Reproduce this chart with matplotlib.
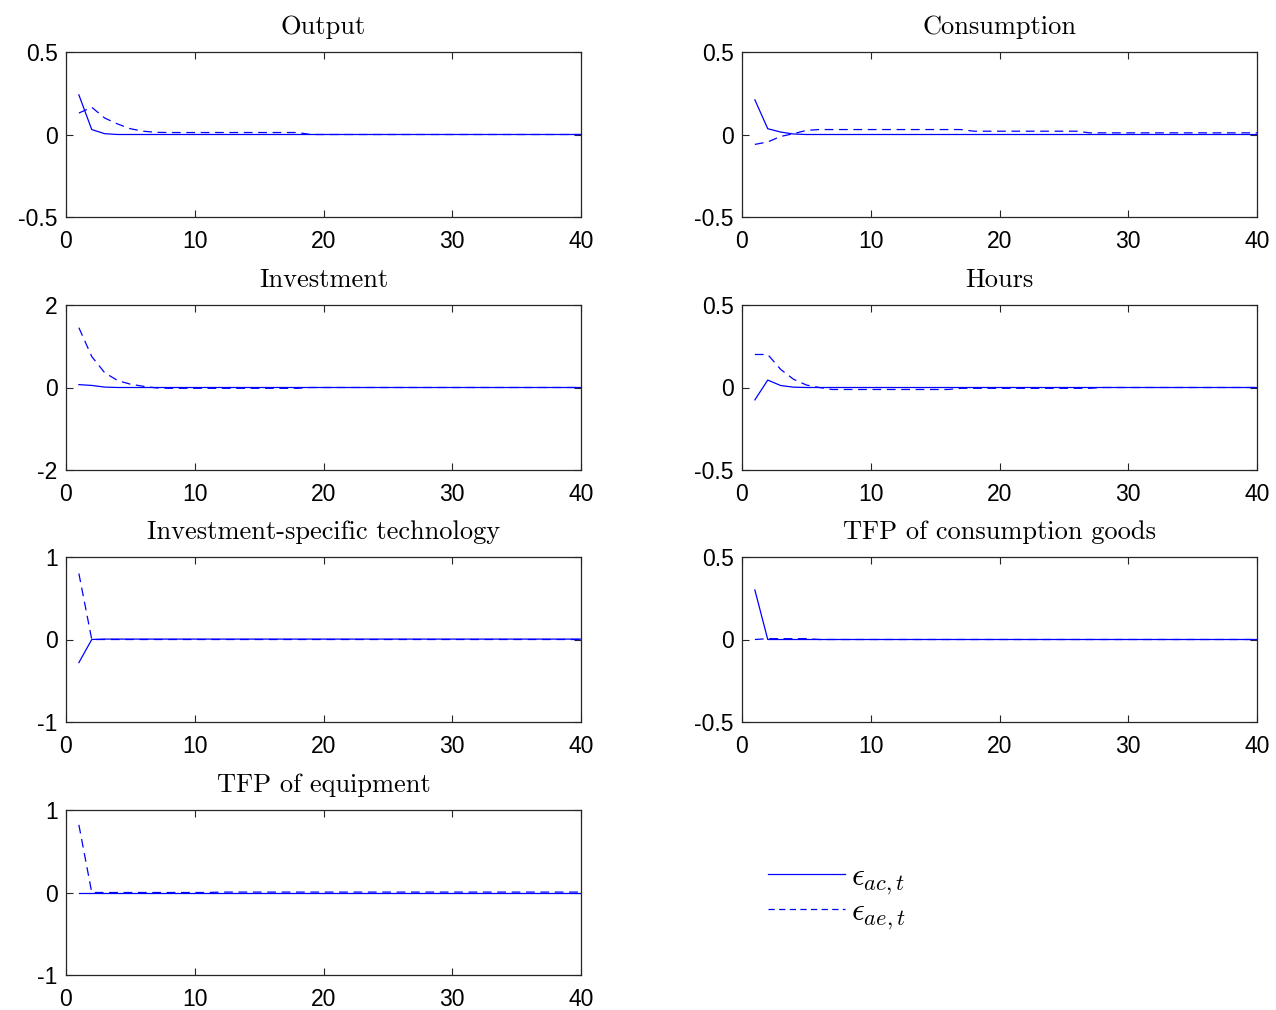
import matplotlib
matplotlib.use("Agg")
import matplotlib.pyplot as plt
from matplotlib.lines import Line2D

t = list(range(1, 41))

titles = ["Output", "Consumption", "Investment", "Hours",
          "Investment-specific technology", "TFP of consumption goods",
          "TFP of equipment"]
ylims = [(-0.5, 0.5), (-0.5, 0.5), (-2, 2), (-0.5, 0.5), (-1, 1), (-0.5, 0.5), (-1, 1)]
yticks = [[-0.5, 0, 0.5], [-0.5, 0, 0.5], [-2, 0, 2], [-0.5, 0, 0.5],
          [-1, 0, 1], [-0.5, 0, 0.5], [-1, 0, 1]]
xticks = [0, 10, 20, 30, 40]

# responses to eps_ac (solid) and eps_ae (dashed)
out_ac = [0.24, 0.03, 0.005, 0.0, 0.0, 0.0, 0.0, 0.0, 0.0, 0.0,
          0.0, 0.0, 0.0, 0.0, 0.0, 0.0, 0.0, 0.0, 0.0, 0.0,
          0.0, 0.0, 0.0, 0.0, 0.0, 0.0, 0.0, 0.0, 0.0, 0.0,
          0.0, 0.0, 0.0, 0.0, 0.0, 0.0, 0.0, 0.0, 0.0, 0.0]
out_ae = [0.13, 0.165, 0.10, 0.064, 0.035, 0.02, 0.013, 0.012, 0.012, 0.012,
          0.012, 0.012, 0.012, 0.012, 0.012, 0.012, 0.012, 0.012, 0.0, 0.0,
          0.0, 0.0, 0.0, 0.0, 0.0, 0.0, 0.0, 0.0, 0.0, 0.0,
          0.0, 0.0, 0.0, 0.0, 0.0, 0.0, 0.0, 0.0, 0.0, 0.0]
cons_ac = [0.21, 0.035, 0.015, 0.003, 0.0, 0.0, 0.0, 0.0, 0.0, 0.0,
           0.0, 0.0, 0.0, 0.0, 0.0, 0.0, 0.0, 0.0, 0.0, 0.0,
           0.0, 0.0, 0.0, 0.0, 0.0, 0.0, 0.0, 0.0, 0.0, 0.0,
           0.0, 0.0, 0.0, 0.0, 0.0, 0.0, 0.0, 0.0, 0.0, 0.0]
cons_ae = [-0.06, -0.045, -0.012, 0.005, 0.025, 0.03, 0.03, 0.03, 0.03, 0.03,
           0.03, 0.03, 0.03, 0.03, 0.03, 0.03, 0.03, 0.02, 0.02, 0.02,
           0.02, 0.02, 0.02, 0.02, 0.02, 0.02, 0.01, 0.01, 0.01, 0.01,
           0.01, 0.01, 0.01, 0.01, 0.01, 0.01, 0.01, 0.01, 0.01, 0.01]
inv_ac = [0.07, 0.05, 0.01, 0.0, 0.0, 0.0, 0.0, 0.0, 0.0, 0.0,
          0.0, 0.0, 0.0, 0.0, 0.0, 0.0, 0.0, 0.0, 0.0, 0.0,
          0.0, 0.0, 0.0, 0.0, 0.0, 0.0, 0.0, 0.0, 0.0, 0.0,
          0.0, 0.0, 0.0, 0.0, 0.0, 0.0, 0.0, 0.0, 0.0, 0.0]
inv_ae = [1.45, 0.75, 0.36, 0.17, 0.08, 0.03, -0.01, -0.02, -0.02, -0.02,
          -0.02, -0.02, -0.02, -0.02, -0.02, -0.02, -0.02, -0.02, 0.0, 0.0,
          0.0, 0.0, 0.0, 0.0, 0.0, 0.0, 0.0, 0.0, 0.0, 0.0,
          0.0, 0.0, 0.0, 0.0, 0.0, 0.0, 0.0, 0.0, 0.0, 0.0]
hrs_ac = [-0.075, 0.045, 0.012, 0.002, 0.0, 0.0, 0.0, 0.0, 0.0, 0.0,
          0.0, 0.0, 0.0, 0.0, 0.0, 0.0, 0.0, 0.0, 0.0, 0.0,
          0.0, 0.0, 0.0, 0.0, 0.0, 0.0, 0.0, 0.0, 0.0, 0.0,
          0.0, 0.0, 0.0, 0.0, 0.0, 0.0, 0.0, 0.0, 0.0, 0.0]
hrs_ae = [0.20, 0.20, 0.11, 0.05, 0.015, 0.0, -0.012, -0.012, -0.012, -0.012,
          -0.012, -0.012, -0.012, -0.012, -0.012, -0.012, -0.005, -0.005, -0.005, -0.005,
          -0.005, -0.005, -0.005, -0.005, -0.005, -0.005, -0.005, 0.0, 0.0, 0.0,
          0.0, 0.0, 0.0, 0.0, 0.0, 0.0, 0.0, 0.0, 0.0, 0.0]
ist_ac = [-0.28, 0.0, 0.005, 0.005, 0.005, 0.005, 0.005, 0.005, 0.005, 0.005,
          0.005, 0.005, 0.005, 0.005, 0.005, 0.005, 0.005, 0.005, 0.005, 0.005,
          0.005, 0.005, 0.005, 0.005, 0.005, 0.005, 0.005, 0.005, 0.005, 0.005,
          0.005, 0.005, 0.005, 0.005, 0.005, 0.005, 0.005, 0.005, 0.005, 0.005]
ist_ae = [0.80, 0.0, 0.0, 0.0, 0.0, 0.0, 0.0, 0.0, 0.0, 0.0,
          0.0, 0.0, 0.0, 0.0, 0.0, 0.0, 0.0, 0.0, 0.0, 0.0,
          0.0, 0.0, 0.0, 0.0, 0.0, 0.0, 0.0, 0.0, 0.0, 0.0,
          0.0, 0.0, 0.0, 0.0, 0.0, 0.0, 0.0, 0.0, 0.0, 0.0]
tfpc_ac = [0.30, 0.0, 0.0, 0.0, 0.0, 0.0, 0.0, 0.0, 0.0, 0.0,
           0.0, 0.0, 0.0, 0.0, 0.0, 0.0, 0.0, 0.0, 0.0, 0.0,
           0.0, 0.0, 0.0, 0.0, 0.0, 0.0, 0.0, 0.0, 0.0, 0.0,
           0.0, 0.0, 0.0, 0.0, 0.0, 0.0, 0.0, 0.0, 0.0, 0.0]
tfpc_ae = [0.0, 0.005, 0.005, 0.005, 0.005, 0.0, 0.0, 0.0, 0.0, 0.0,
           0.0, 0.0, 0.0, 0.0, 0.0, 0.0, 0.0, 0.0, 0.0, 0.0,
           0.0, 0.0, 0.0, 0.0, 0.0, 0.0, 0.0, 0.0, 0.0, 0.0,
           0.0, 0.0, 0.0, 0.0, 0.0, 0.0, 0.0, 0.0, 0.0, 0.0]
tfpe_ac = [0.0, 0.0, 0.0, 0.0, 0.0, 0.0, 0.0, 0.0, 0.0, 0.0,
           0.0, 0.0, 0.0, 0.0, 0.0, 0.0, 0.0, 0.0, 0.0, 0.0,
           0.0, 0.0, 0.0, 0.0, 0.0, 0.0, 0.0, 0.0, 0.0, 0.0,
           0.0, 0.0, 0.0, 0.0, 0.0, 0.0, 0.0, 0.0, 0.0, 0.0]
tfpe_ae = [0.82, 0.0, 0.0, 0.0, 0.0, 0.0, 0.0, 0.0, 0.0, 0.0,
           0.0, 0.005, 0.005, 0.005, 0.005, 0.005, 0.005, 0.005, 0.005, 0.005,
           0.005, 0.005, 0.005, 0.005, 0.005, 0.005, 0.005, 0.005, 0.005, 0.005,
           0.005, 0.005, 0.005, 0.005, 0.005, 0.005, 0.005, 0.005, 0.005, 0.005]

series_ac = [out_ac, cons_ac, inv_ac, hrs_ac, ist_ac, tfpc_ac, tfpe_ac]
series_ae = [out_ae, cons_ae, inv_ae, hrs_ae, ist_ae, tfpc_ae, tfpe_ae]

BLUE = "#0000ff"
plt.rcParams.update({"font.family": "Liberation Sans", "font.size": 16.5,
                     "axes.unicode_minus": False, "mathtext.fontset": "cm"})

W, H = 1276, 1010
fig = plt.figure(figsize=(W / 100, H / 100), dpi=100)
lefts = [66, 742]
tops = [52, 305, 557, 810]
aw, ah = 515, 165

for i in range(7):
    r, c = divmod(i, 2)
    ax = fig.add_axes([lefts[c] / W, (H - tops[r] - ah) / H, aw / W, ah / H])
    ax.plot(t, series_ac[i], color=BLUE, lw=0.9)
    ax.plot(t, series_ae[i], color=BLUE, lw=0.9, dashes=(7, 4.5))
    ax.set_xlim(0, 40)
    ax.set_ylim(*ylims[i])
    ax.set_xticks(xticks)
    ax.set_yticks(yticks[i])
    ax.set_yticklabels([f"{v:g}" for v in yticks[i]])
    ax.tick_params(direction="in", length=5, width=0.8, top=True, right=True,
                   colors="#262626", labelcolor="black")
    ax.tick_params(axis="x", pad=9.5)
    ax.tick_params(axis="y", pad=6)
    for sp in ax.spines.values():
        sp.set_color("#262626")
        sp.set_linewidth(0.9)
    ax.set_title(titles[i], fontfamily="cmr10", fontsize=19, pad=13)

handles = [Line2D([], [], color=BLUE, lw=0.9),
           Line2D([], [], color=BLUE, lw=0.9, dashes=(5, 3.5))]
fig.legend(handles, [r"$\epsilon_{ac,t}$", r"$\epsilon_{ae,t}$"],
           loc="upper left", bbox_to_anchor=(768 / W, 1 - 862 / H),
           frameon=False, fontsize=23, handlelength=2.4, handletextpad=0.2,
           labelspacing=0.0, borderpad=0, borderaxespad=0)

fig.savefig("out.png", dpi=100)
